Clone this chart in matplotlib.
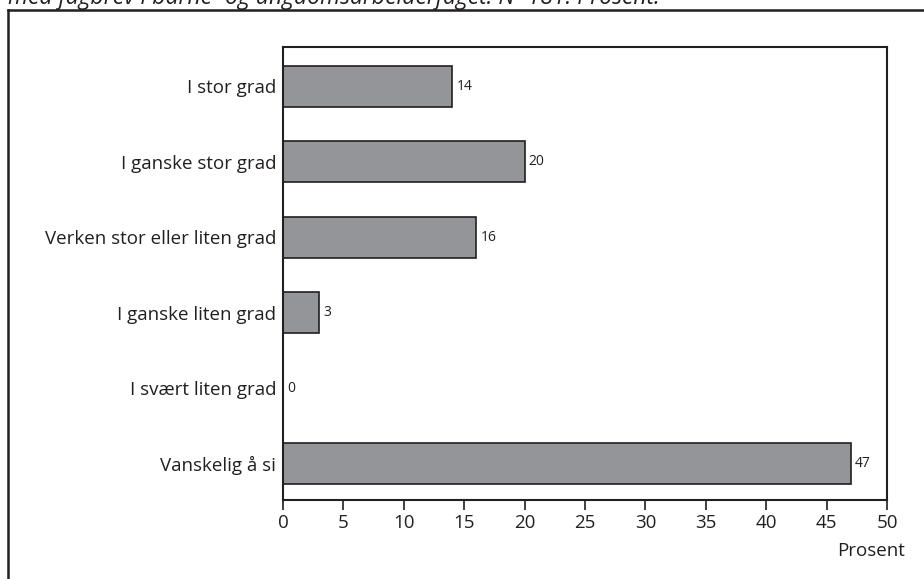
import matplotlib
matplotlib.use("Agg")
import matplotlib.pyplot as plt
from matplotlib.lines import Line2D

plt.rcParams['font.family'] = ['Open Sans', 'DejaVu Sans']

categories = ["I stor grad", "I ganske stor grad", "Verken stor eller liten grad",
              "I ganske liten grad", "I svært liten grad", "Vanskelig å si"]
values = [14, 20, 16, 3, 0, 47]
xticks = [0, 5, 10, 15, 20, 25, 30, 35, 40, 45, 50]
caption = "med fagbrev i barne- og ungdomsarbeiderfaget. N=181. Prosent."

W, H = 924, 579
fig = plt.figure(figsize=(W / 100, H / 100), dpi=100)

# outer frame (left and top edges)
fig.add_artist(Line2D([8 / W, 8 / W], [0, 1 - 10 / H], transform=fig.transFigure,
                      color="#231f20", lw=1.8))
fig.add_artist(Line2D([8 / W, 1], [1 - 10 / H, 1 - 10 / H], transform=fig.transFigure,
                      color="#231f20", lw=1.8))
fig.text(8 / W, 1 - 3.5 / H, caption, ha="left", va="baseline", fontsize=16.5,
         style="italic", color="#231f20")

ax = fig.add_axes([283 / W, 1 - 500 / H, (887 - 283) / W, (500 - 47) / H])
pos = list(range(len(categories)))
bars = ax.barh(pos, values, height=0.54, color="#939598", edgecolor="#231f20", linewidth=1.2)
for p, v in zip(pos, values):
    ax.text(v + 0.35, p, str(v), va="center", ha="left", fontsize=10, color="#231f20")

ax.set_ylim(5.48, -0.52)
ax.set_xlim(0, 50)
ax.set_yticks(pos)
ax.set_yticklabels(categories, fontsize=13.5, color="#231f20")
ax.tick_params(axis="y", length=0, pad=5)
ax.set_xticks(xticks)
ax.set_xticklabels([str(t) for t in xticks], fontsize=13.5, color="#231f20")
ax.tick_params(axis="x", length=7, width=1.2, color="#231f20", pad=3)
for s in ax.spines.values():
    s.set_linewidth(1.5)
    s.set_color("#231f20")
ax.set_xlabel("Prosent", fontsize=13.5, color="#231f20")
ax.xaxis.set_label_coords(1.03, -0.092)
ax.xaxis.label.set_ha("right")
ax.xaxis.label.set_va("top")

fig.savefig("out.png", dpi=100)
